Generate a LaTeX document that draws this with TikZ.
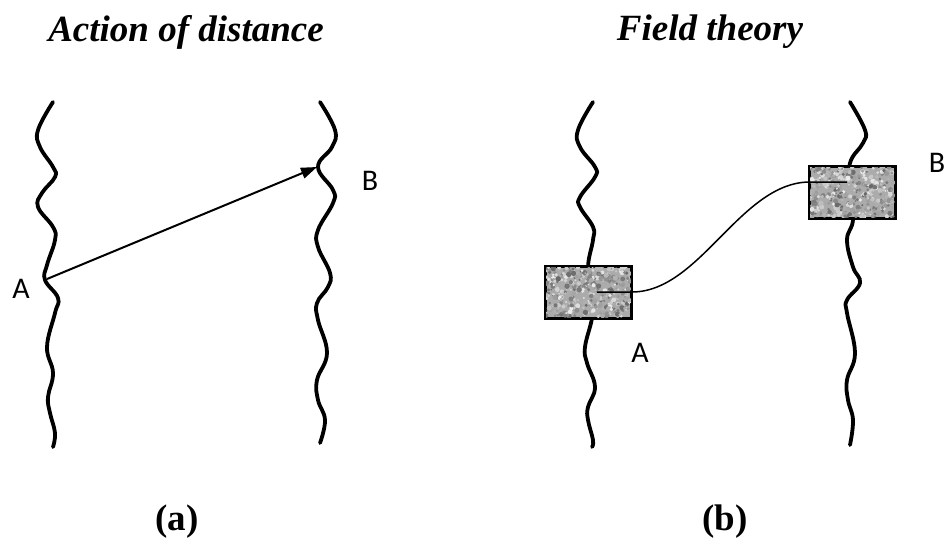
\documentclass[tikz,border=0pt]{standalone}
\usepackage{fontspec}
\setmainfont{Liberation Serif}
\newfontfamily\labelfont{Carlito}
\usetikzlibrary{arrows.meta,positioning}
\tikzset{
  heading/.style={anchor=base,font=\fontsize{37}{40}\selectfont\bfseries\itshape},
  subcap/.style={anchor=base,font=\fontsize{37}{40}\selectfont\bfseries},
  ptlabel/.style={anchor=base,font=\labelfont\fontsize{30}{32}\selectfont},
  wave/.style={line width=3.8pt,line cap=round},
  charge/.style={draw,line width=1.8pt,fill=black!33,minimum width=85pt,minimum height=51pt,inner sep=0pt},
  fieldline/.style={line width=1.5pt}
}

\begin{document}
\begin{tikzpicture}[x=1pt,y=-1pt,>={Triangle[length=16pt,width=11pt]}]
  \useasboundingbox (0,0) rectangle (946,541);

  % headings and captions
  \node[heading] (ha) at (186,41) {Action of distance};
  \node[heading] (hb) at (710,40) {Field theory};
  \node[subcap] (ca) at (177,530) {(a)};
  \node[subcap] (cb) at (725,530) {(b)};

  % (a) action at a distance
  \draw[wave] plot[smooth,tension=0.7] coordinates {(53,102) (38,130) (40,147) (53,167) (55,177) (42,193) (38,207) (53,227) (55,240) (47,265) (45,280) (58,298) (55,313) (47,347) (53,373) (48,397) (50,413) (55,433) (53,447)};
  \draw[wave] plot[smooth,tension=0.7] coordinates {(320,102) (335,130) (332,147) (318,167) (333,190) (333,203) (318,230) (318,247) (330,273) (328,287) (317,303) (318,320) (327,353) (317,380) (318,400) (325,420) (320,443)};
  \coordinate (srcA) at (47,279);
  \coordinate (dstB) at (317,167);
  \draw[->,line width=2pt] (srcA) -- (dstB);
  \node[ptlabel] (la) at (21,298) {A};
  \node[ptlabel] (lb) at (370,190) {B};

  % (b) field theory
  \draw[wave] plot[smooth,tension=0.7] coordinates {(593,102) (578,130) (580,147) (595,167) (595,177) (580,197) (580,207) (593,227) (593,240) (588,268) (592,300) (592,318) (585,347) (587,363) (595,387) (588,407) (588,420) (593,440) (592,447)};
  \draw[wave] plot[smooth,tension=0.7] coordinates {(850,102) (865,130) (863,143) (850,163) (851,190) (853,220) (847,240) (853,267) (860,283) (847,300) (847,313) (855,353) (847,380) (848,400) (853,420) (850,445)};

  \node[charge] (qa) at (588.5,292.5) {};
  \node[charge] (qb) at (852.5,192.5) {};
  \pgfmathsetseed{11}
  \foreach \b in {qa,qb} {
    \begin{scope}
      \clip (\b.south west) rectangle (\b.north east);
      \foreach \i in {1,...,420} {
        \pgfmathsetmacro\px{rnd*85}
        \pgfmathsetmacro\py{rnd*51}
        \pgfmathsetmacro\g{int(8+rnd*52)}
        \pgfmathsetmacro\r{0.9+rnd*1.8}
        \fill[black!\g,shift={(\b.north west)}] (\px,\py) circle (\r);
      }
    \end{scope}
    \draw[line width=1.8pt] (\b.south west) rectangle (\b.north east);
  }

  \coordinate (fa) at (597,292);
  \coordinate (fb) at (847,182);
  \draw[fieldline] (fa) -- (qa.east |- fa) .. controls (700,292) and (740,183) .. (qb.west |- fb) -- (fb);
  \node[ptlabel] (lqa) at (640,362) {A};
  \node[ptlabel] (lqb) at (937,172) {B};
\end{tikzpicture}
\end{document}
